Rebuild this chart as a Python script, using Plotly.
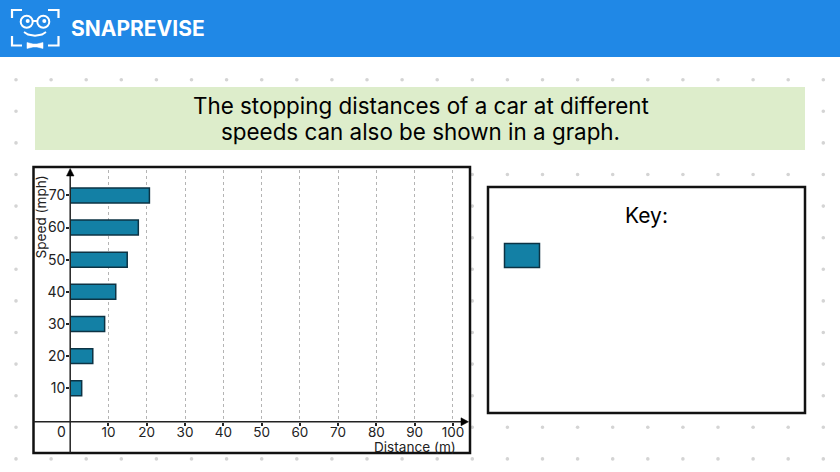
import plotly.graph_objects as go

# ---- data ----
speeds = [10, 20, 30, 40, 50, 60, 70]
distances = [3, 5.9, 9, 11.9, 14.9, 17.8, 20.7]
x_ticks = [10, 20, 30, 40, 50, 60, 70, 80, 90, 100]
title_lines = ["The stopping distances of a car at different", "speeds can also be shown in a graph."]
brand = "SNAPREVISE"
key_title = "Key:"
x_title = "Distance (m)"
y_title = "Speed (mph)"

W, H = 840, 472
FONT = "Inter"
BAR = "#1380A5"
EDGE = "#0C3344"
INK = "#222222"

fx = lambda x: x / W
fy = lambda y: 1 - y / H


def rect(x0, y0, x1, y1, fill=None, line=None, lw=0, layer="below", kind="rect"):
    return dict(type=kind, xref="paper", yref="paper", x0=fx(x0), x1=fx(x1), y0=fy(y0), y1=fy(y1),
                fillcolor=fill or "rgba(0,0,0,0)", line=dict(color=line or "rgba(0,0,0,0)", width=lw), layer=layer)


def seg(points, color="black", lw=2, fill=None, close=False, layer="below"):
    d = "M" + " L".join(f"{fx(x):.5f},{fy(y):.5f}" for x, y in points) + (" Z" if close else "")
    return dict(type="path", path=d, xref="paper", yref="paper", fillcolor=fill or "rgba(0,0,0,0)",
                line=dict(color=color, width=lw), layer=layer)


def text(x, y, s, size, color="black", angle=0, family=FONT, weight=None):
    return dict(xref="paper", yref="paper", x=fx(x), y=fy(y), text=s, showarrow=False, xanchor="center",
                yanchor="middle", textangle=angle, font=dict(family=family, size=size, color=color, weight=weight))


shapes = []
shapes.append(rect(0, 0, W, 57, fill="#2088E6"))
for j in range(13):
    for i in range(24):
        cx, cy = 16 + 35.1 * i, 79.7 + 31.6 * j
        shapes.append(rect(cx - 1.8, cy - 1.8, cx + 1.8, cy + 1.8, fill="#D4D4D4", kind="circle"))
shapes.append(rect(35, 87, 805, 150, fill="#DDEDCB"))
shapes.append(rect(33.5, 167, 470, 453, fill="white", line="#111111", lw=2.5))
shapes.append(rect(488, 187, 805, 413, fill="white", line="#111111", lw=2.5))
shapes.append(rect(504.5, 243.5, 539.5, 267.5, fill=BAR, line=EDGE, lw=1.5))

# logo
for pts in ([(22, 10), (12, 10), (12, 18)], [(48, 10), (58.5, 10), (58.5, 18)],
            [(12, 36), (12, 45.5), (22, 45.5)], [(58.5, 36), (58.5, 45.5), (48, 45.5)]):
    shapes.append(seg(pts, "white", 2.2))
for cx in (26.7, 43.3):
    shapes.append(rect(cx - 6, 15.7, cx + 6, 27.7, line="white", lw=2, kind="circle"))
    shapes.append(rect(cx - 1, 19, cx + 3, 23, fill="white", kind="circle"))
shapes.append(seg([(32.7, 21), (37.3, 21)], "white", 2))
shapes.append(seg([(24, 32), (28, 34.5), (35, 35.7), (42, 34.5), (46, 32)], "white", 2))
shapes.append(seg([(27, 42.5), (33, 44), (37, 44), (43, 42.5), (43, 48.5), (37, 47), (33, 47), (27, 48.5)],
                  "white", 0.5, fill="white", close=True))

# axis lines and arrows
shapes.append(seg([(33.5, 421.8), (464, 421.8)], "#222222", 1.5, layer="above"))
shapes.append(seg([(70.2, 453), (70.2, 172)], "#222222", 1.5, layer="above"))
shapes.append(seg([(461, 417.8), (468.5, 421.8), (461, 425.8)], "black", 0.5, fill="black", close=True, layer="above"))
shapes.append(seg([(66.5, 176), (70.2, 168.5), (74, 176)], "black", 0.5, fill="black", close=True, layer="above"))

annotations = [
    text(138, 28.5, brand, 21, "white", weight=700),
    text(420.5, 105.5, title_lines[0], 22.4),
    text(420.5, 131, title_lines[1], 22.4),
    text(646.7, 215, key_title, 21),
    text(415, 446.8, x_title, 13.6, INK),
    text(40.5, 217, y_title, 13.6, INK, angle=-90),
    text(61, 431.5, "0", 14, INK),
]

fig = go.Figure(go.Bar(x=distances, y=speeds, orientation="h", width=4.65,
                       marker=dict(color=BAR, line=dict(color=EDGE, width=1.5)), hoverinfo="skip"))

x0px, x1px = 70.2, 468.0
y0px, y1px = 421.8, 170.0
y_scale = 3.25
y_zero = 423.2
fig.update_layout(
    width=W, height=H, margin=dict(l=0, r=0, t=0, b=0), paper_bgcolor="white", plot_bgcolor="rgba(0,0,0,0)",
    showlegend=False, shapes=shapes, annotations=annotations, font=dict(family=FONT, color=INK),
    xaxis=dict(domain=[fx(x0px), fx(x1px)], range=[0, (x1px - x0px) / 3.827], tickmode="array", tickvals=x_ticks,
               ticktext=[str(v) for v in x_ticks], ticks="outside", ticklen=3, tickwidth=1.5, tickcolor="#222222",
               ticklabelstandoff=-5,
               tickfont=dict(size=13.5, color=INK, family=FONT), showgrid=True, gridcolor="#B4B4B4", gridwidth=1,
               griddash="3px,3px", showline=False, zeroline=False, anchor="y"),
    yaxis=dict(domain=[fy(y0px), fy(y1px)], range=[(y_zero - y0px) / -y_scale, (y_zero - y1px) / y_scale],
               tickmode="array", tickvals=speeds, ticklabelstandoff=-2,
               ticktext=[str(v) for v in speeds], ticks="outside", ticklen=3, tickwidth=1.5, tickcolor="#222222",
               tickfont=dict(size=14, color=INK, family=FONT), showgrid=False, showline=False, zeroline=False,
               anchor="x"),
)
fig.write_html("out.html", post_script="document.body.style.margin='0';", config={"displayModeBar": False})
